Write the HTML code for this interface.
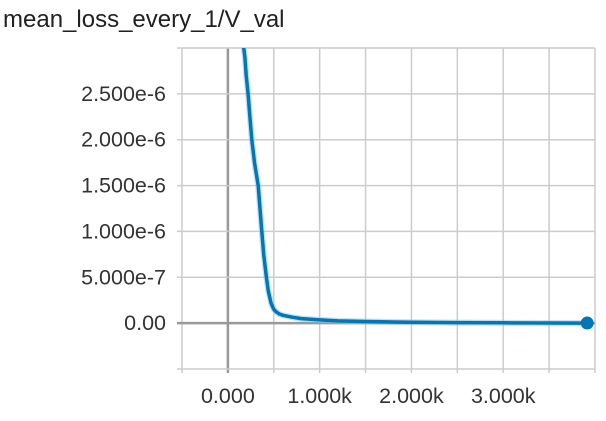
<!DOCTYPE html>
<html><head><meta charset="utf-8"><style>
body{margin:0;background:#fff;width:606px;height:416px;overflow:hidden;font-family:"Liberation Sans",sans-serif}
</style></head><body>
<svg id="chart" width="606" height="416">
<text x="3" y="27" font-size="24" fill="#212121">mean_loss_every_1/V_val</text>
<g id="grid"></g><g id="series"></g>
</svg>
<script>
const steps=[160,185,200,220,240,260,290,330,350,370,390,420,440,470,500,530,560,600,700,800,1000,1200,1500,1800,2000,2500,3000,3500,3915];
const values=[3.1e-6,2.9e-6,2.7e-6,2.5e-6,2.25e-6,2.0e-6,1.75e-6,1.5e-6,1.25e-6,1.0e-6,7.5e-7,5e-7,3.5e-7,2.2e-7,1.5e-7,1.2e-7,1.0e-7,8.5e-8,6.5e-8,5e-8,3.5e-8,2.5e-8,1.8e-8,1.2e-8,9e-9,6e-9,4e-9,2e-9,1e-9];
const yTicks=[0,5e-7,1e-6,1.5e-6,2e-6,2.5e-6];
const yLabels=["0.00","5.000e-7","1.000e-6","1.500e-6","2.000e-6","2.500e-6"];
const xTicks=[0,1000,2000,3000];
const xLabels=["0.000","1.000k","2.000k","3.000k"];
const X0=182,X1=595,Y0=48,Y1=369,xmin=-500,xmax=4000,ymin=-5e-7,ymax=3e-6;
const sx=v=>X0+(v-xmin)/(xmax-xmin)*(X1-X0);
const sy=v=>Y1-(v-ymin)/(ymax-ymin)*(Y1-Y0);
const NS="http://www.w3.org/2000/svg";
function mk(t,a,p){const e=document.createElementNS(NS,t);for(const k in a)e.setAttribute(k,a[k]);p.appendChild(e);return e;}
const g=document.getElementById('grid'),s=document.getElementById('series');
for(let v=-500;v<=4000;v+=500){
 const l=mk('line',{x1:sx(v),x2:sx(v),y1:Y0,y2:Y1+4,stroke:v===0?'#999':'#ccc','stroke-width':v===0?2.5:1.5},g);
 
 
}
for(let v=-5e-7;v<=3.01e-6;v+=5e-7){
 const z=Math.abs(v)<1e-12;
 const l=mk('line',{x1:X0-5,x2:X1,y1:sy(v),y2:sy(v),stroke:z?'#999':'#ccc','stroke-width':z?2.5:1.5},g);
 
 
}
yTicks.forEach((v,i)=>{
 const t=mk('text',{x:166,y:sy(v)+7,'text-anchor':'end','font-size':21.5,fill:'#333'},g);t.textContent=yLabels[i];
 
 
});
xTicks.forEach((v,i)=>{
 const t=mk('text',{x:sx(v),y:403,'text-anchor':'middle','font-size':21.5,fill:'#333'},g);t.textContent=xLabels[i];
 
 
});
const cp=mk('clipPath',{id:'cp'},s);mk('rect',{x:X0,y:Y0,width:X1-X0,height:Y1-Y0},cp);
const d=steps.map((v,i)=>(i?'L':'M')+sx(v).toFixed(1)+','+sy(values[i]).toFixed(1)).join('');
const raw=mk('path',{d:d,fill:'none',stroke:'#8fc3e0','stroke-width':6,'clip-path':'url(#cp)','stroke-linejoin':'round',opacity:0.5},s);


const ln=mk('path',{d:d,fill:'none',stroke:'#0077b6','stroke-width':3.5,'clip-path':'url(#cp)','stroke-linejoin':'round'},s);


const n=steps.length-1;
const dot=mk('circle',{cx:sx(steps[n]),cy:sy(values[n]),r:6.5,fill:'#0077b6'},s);


</script>
</body></html>
